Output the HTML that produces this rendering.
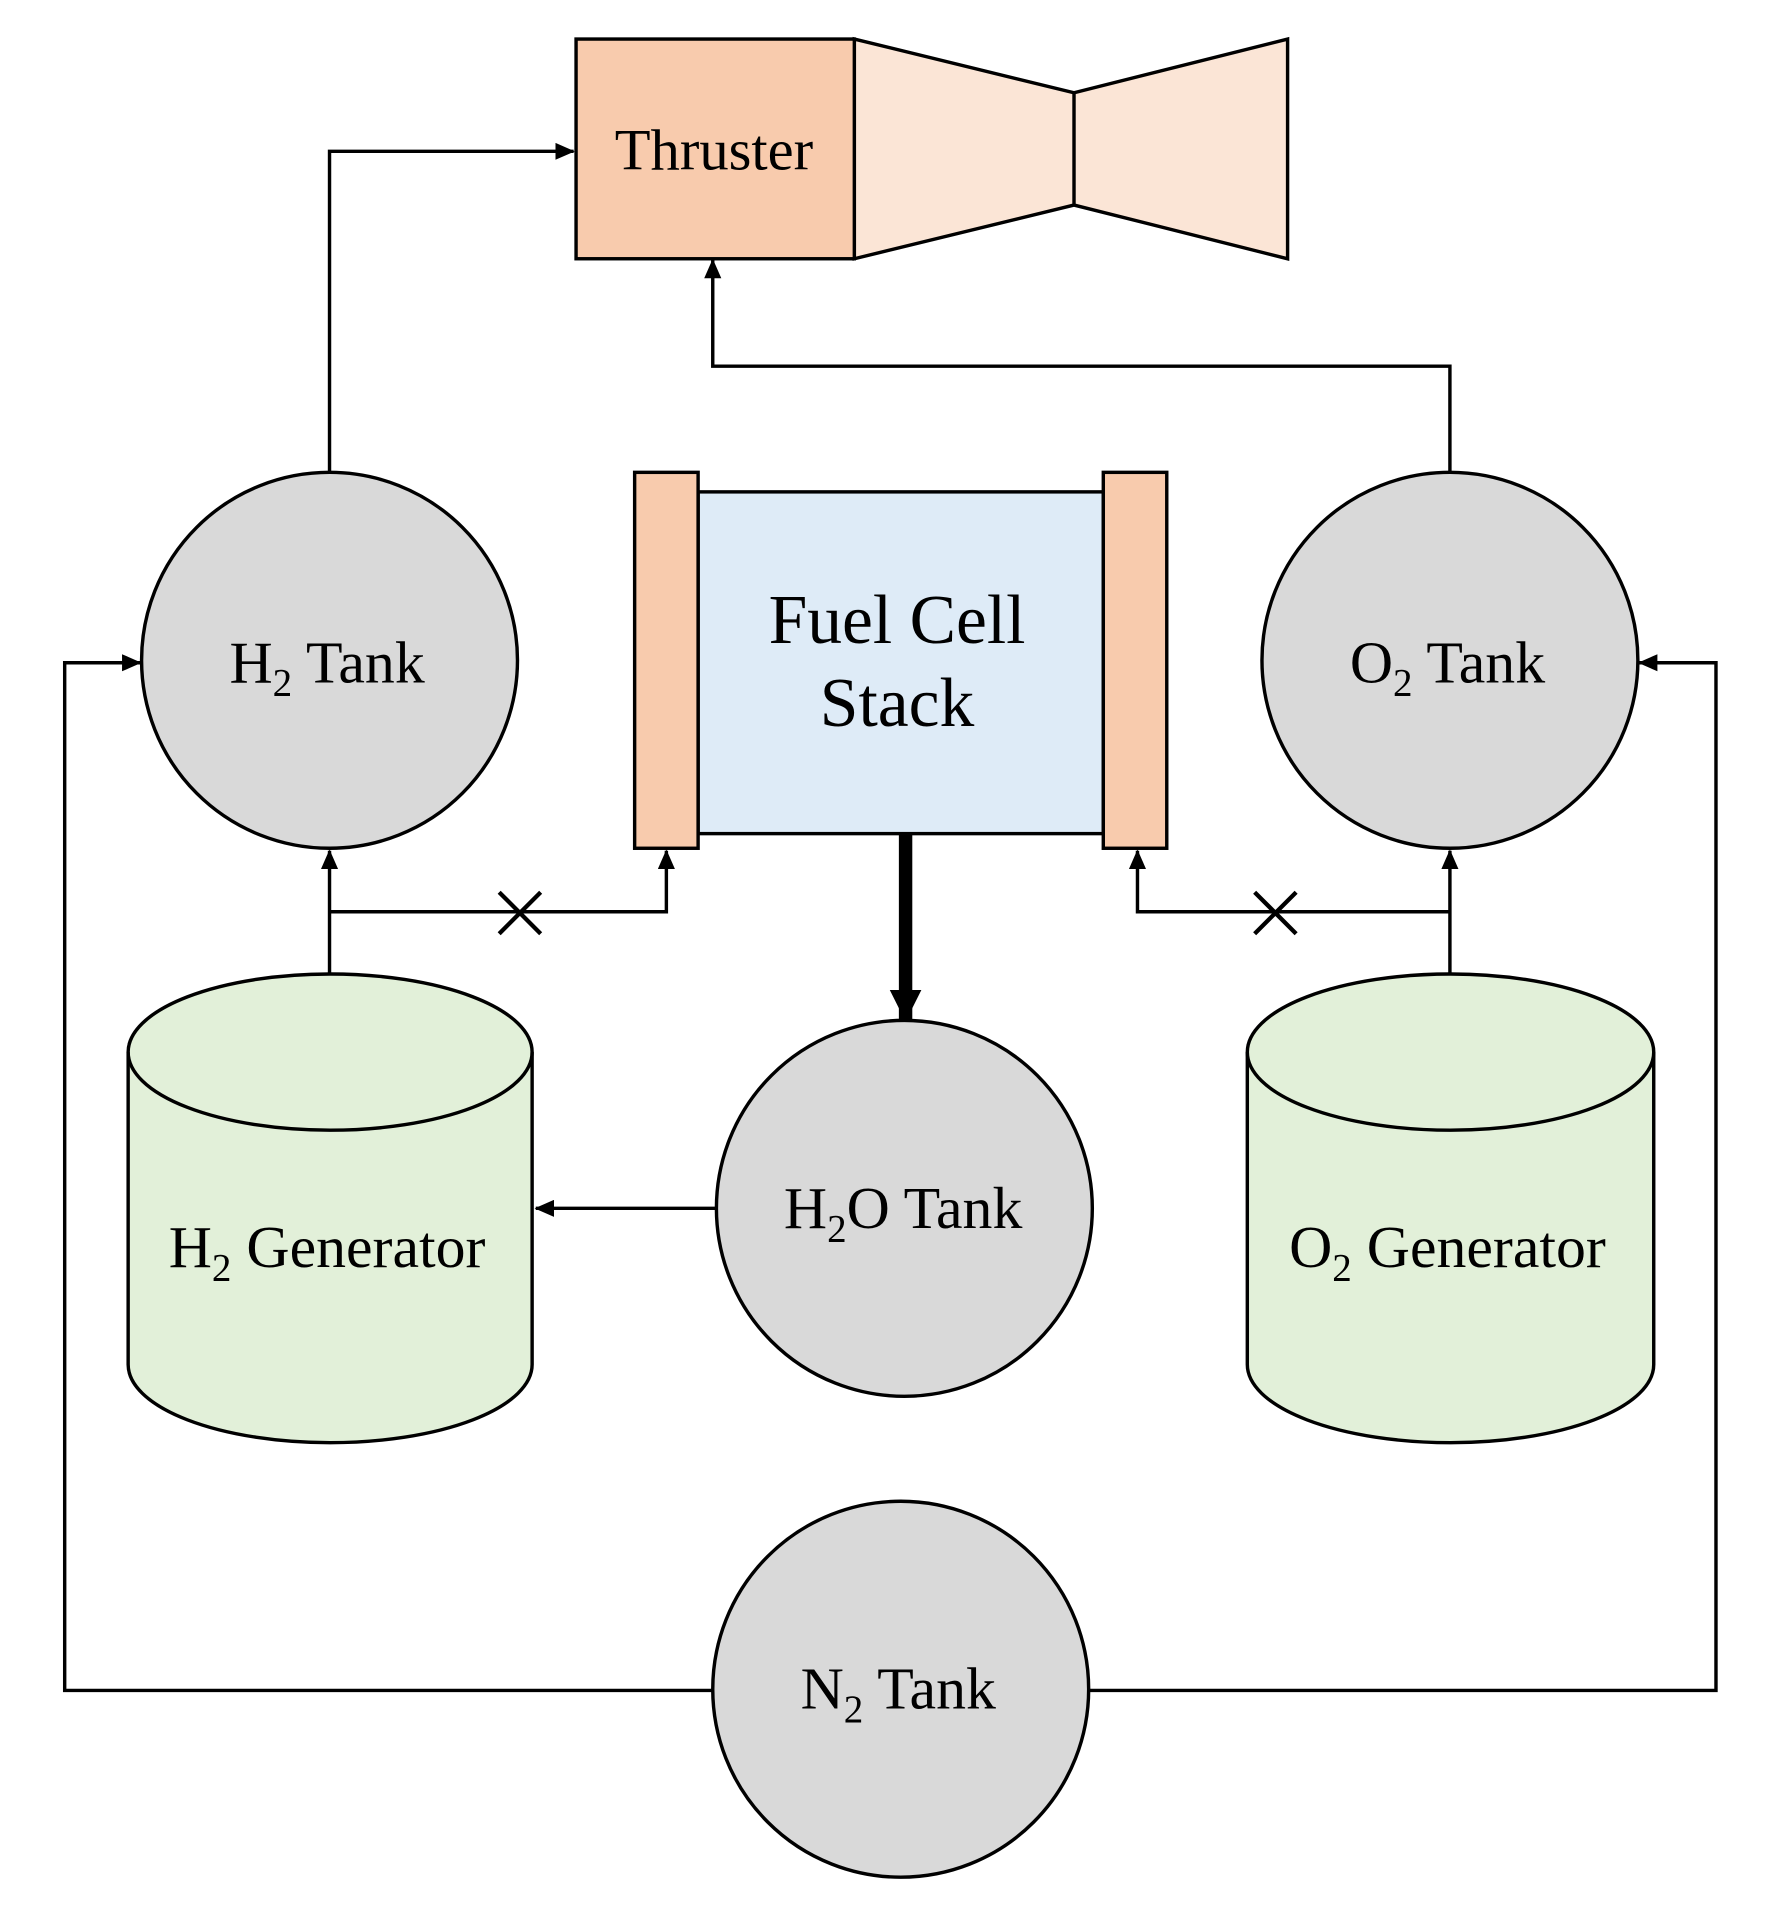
<!DOCTYPE html>
<html><head><meta charset="utf-8"><style>html,body{margin:0;padding:0;background:#fff}svg{display:block}</style></head>
<body>
<svg width="1777" height="1926" viewBox="0 0 1456 1578" preserveAspectRatio="none" xmlns="http://www.w3.org/2000/svg">
<defs>
<marker id="a" markerWidth="16" markerHeight="14" refX="15" refY="7" orient="auto" markerUnits="userSpaceOnUse" viewBox="0 0 16 14">
<path d="M0,0 L16,7 L0,14 z" fill="#000"/></marker>
<marker id="b" markerWidth="26" markerHeight="26" refX="25" refY="13" orient="auto" markerUnits="userSpaceOnUse" viewBox="0 0 26 26">
<path d="M0,0 L26,13 L0,26 z" fill="#000"/></marker>
</defs>
<g stroke="#000" stroke-width="2.8" fill="none">
<polyline points="270,387 270,124 470,124" marker-end="url(#a)"/>
<polyline points="1188,387 1188,300 584,300 584,213" marker-end="url(#a)"/>
<polyline points="585,1385 53,1385 53,543 115,543" marker-end="url(#a)"/>
<polyline points="891,1385 1406,1385 1406,543 1343,543" marker-end="url(#a)"/>
<polyline points="270,798 270,697" marker-end="url(#a)"/>
<polyline points="270,747 546,747 546,697" marker-end="url(#a)"/>
<polyline points="1188,798 1188,697" marker-end="url(#a)"/>
<polyline points="1188,747 932,747 932,697" marker-end="url(#a)"/>
<line x1="587" y1="990" x2="439" y2="990" marker-end="url(#a)"/>
<line x1="742" y1="678" x2="742" y2="836" stroke-width="11" marker-end="url(#b)"/>
<path d="M409,731 L443,765 M443,731 L409,765" stroke-width="3.5"/>
<path d="M1028,731 L1062,765 M1062,731 L1028,765" stroke-width="3.5"/>
</g>
<g stroke="#000" stroke-width="2.8">
<polygon points="700,32 880,76 1055,32 1055,212 880,168 700,212" fill="#FBE5D6"/>
<line x1="880" y1="76" x2="880" y2="168"/>
<rect x="472" y="32" width="228" height="180" fill="#F8CBAD"/>
<rect x="572" y="403" width="332" height="280" fill="#DEEBF7"/>
<rect x="520" y="387" width="52" height="308" fill="#F8CBAD"/>
<rect x="904" y="387" width="52" height="308" fill="#F8CBAD"/>
<circle cx="270" cy="541" r="154" fill="#D9D9D9"/>
<circle cx="1188" cy="541" r="154" fill="#D9D9D9"/>
<circle cx="741" cy="990" r="154" fill="#D9D9D9"/>
<circle cx="738" cy="1384" r="154" fill="#D9D9D9"/>
<path d="M105,862 L105,1118 A165.5,64 0 0 0 436,1118 L436,862 A165.5,64 0 0 0 105,862 Z" fill="#E2F0D9"/>
<path d="M105,862 A165.5,64 0 0 0 436,862" fill="none"/>
<path d="M1022,862 L1022,1118 A166.5,64 0 0 0 1355,1118 L1355,862 A166.5,64 0 0 0 1022,862 Z" fill="#E2F0D9"/>
<path d="M1022,862 A166.5,64 0 0 0 1355,862" fill="none"/>
</g>
<g font-family="Liberation Serif, serif" fill="#000" text-anchor="middle" font-size="49">
<text x="585" y="139" font-size="48">Thruster</text>
<text x="735" y="527" font-size="57">Fuel Cell</text>
<text x="735" y="595" font-size="57">Stack</text>
<text x="268" y="559">H<tspan font-size="32" dy="11">2</tspan><tspan dy="-11"> Tank</tspan></text>
<text x="1186" y="559">O<tspan font-size="32" dy="11">2</tspan><tspan dy="-11"> Tank</tspan></text>
<text x="740" y="1006">H<tspan font-size="32" dy="11">2</tspan><tspan dy="-11">O Tank</tspan></text>
<text x="736" y="1400">N<tspan font-size="32" dy="11">2</tspan><tspan dy="-11"> Tank</tspan></text>
<text x="268" y="1038">H<tspan font-size="32" dy="11">2</tspan><tspan dy="-11"> Generator</tspan></text>
<text x="1186" y="1038">O<tspan font-size="32" dy="11">2</tspan><tspan dy="-11"> Generator</tspan></text>
</g>
</svg>
</body></html>
